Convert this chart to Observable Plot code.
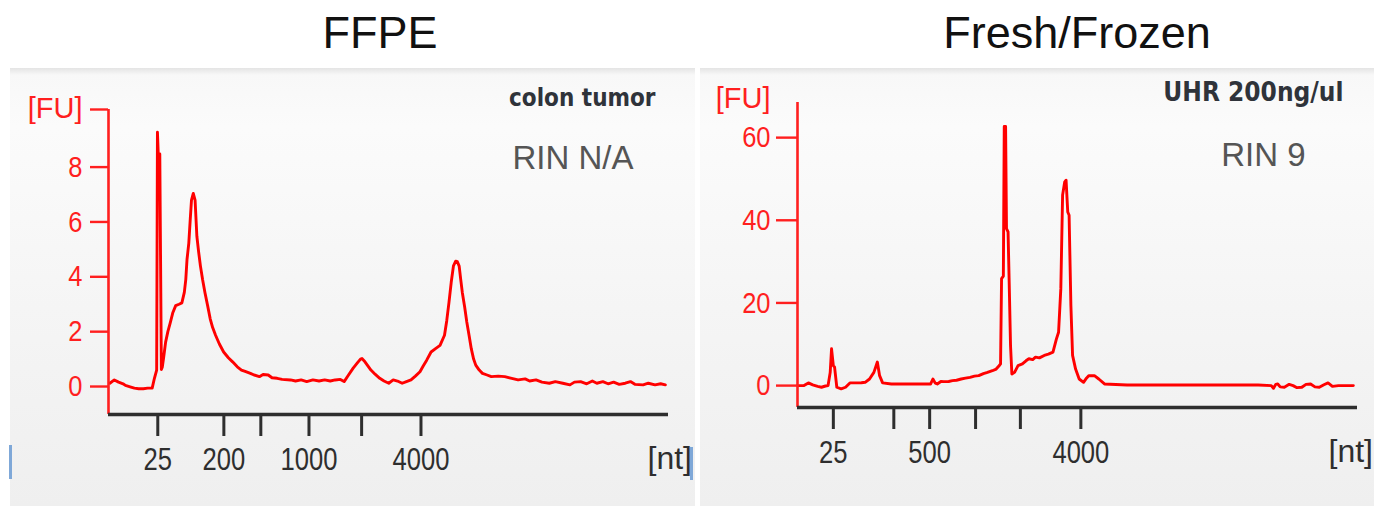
<!DOCTYPE html>
<html>
<head>
<meta charset="utf-8">
<script src="https://cdn.jsdelivr.net/npm/d3@7"></script>
<script src="https://cdn.jsdelivr.net/npm/@observablehq/plot@0.6"></script>
<style>
  body { margin: 0; background: #fff; }
  #root { position: relative; width: 1374px; height: 511px; overflow: hidden; font-family: "Liberation Sans", Arial, sans-serif; }
  .title { position: absolute; top: 10px; font-size: 45px; line-height: 45px; color: #111; text-align: center; white-space: nowrap; }
  .panel { position: absolute; top: 68px; height: 438px;
    background: linear-gradient(to bottom, #e4e4e4 0px, #f8f8f8 7px, #fbfbfb 60px, #f3f3f3 300px, #efefef 100%); }
  .panel svg { position: absolute; left: 0; top: 0; }
  .edge { position: absolute; width: 3px; background: #7fa8d8; }
</style>
</head>
<body>
<div id="root">
  <div class="title" style="left:230px;width:300px;">FFPE</div>
  <div class="title" style="left:877px;width:400px;">Fresh/Frozen</div>
  <div class="panel" id="left" style="left:10px;width:685px;"></div>
  <div class="panel" id="right" style="left:700px;width:674px;"></div>
  <div class="edge" style="left:9px;top:445px;height:34px;"></div>
  <div class="edge" style="left:690px;top:447px;height:33px;"></div>
</div>
<script>
// ---------- data ----------
// size ladder (nt) and migration times (s) of the ladder ticks
const ladderNt = [25, 200, 500, 1000, 2000, 4000];
const ffpeLadderTime = [23.4, 29.3, 32.6, 36.9, 41.6, 46.9];
const freshLadderTime = [22.2, 27.6, 30.8, 34.9, 38.9, 44.3];
const ffpeLabeledNt = [25, 200, 1000, 4000];
const freshLabeledNt = [25, 500, 4000];
const ffpeYTicks = [0, 2, 4, 6, 8];
const freshYTicks = [0, 20, 40, 60];

// FFPE trace: time (s) and fluorescence (FU)
const ffpeTime = [19.12,19.52,19.9,20.3,20.51,21.0,21.31,21.7,22.11,22.5,22.9,23.1,23.3,23.37,23.44,23.58,23.72,23.8,23.92,24.1,24.3,24.5,24.75,25.0,25.3,25.55,25.77,25.9,26.01,26.17,26.3,26.41,26.57,26.73,26.89,27.05,27.21,27.4,27.61,27.85,28.08,28.3,28.56,28.9,29.28,29.7,30.08,30.5,30.87,31.2,31.67,32.0,32.47,32.8,33.26,33.6,34.06,34.5,35.25,35.7,36.2,36.7,37.25,37.8,38.3,38.8,39.24,39.7,40.04,40.4,40.83,41.2,41.5,41.63,41.9,42.43,42.8,43.22,43.6,44.02,44.42,44.8,45.22,45.6,46.01,46.4,46.81,47.1,47.41,47.8,48.2,48.6,49.0,49.2,49.4,49.6,49.8,50.0,50.15,50.31,50.45,50.59,50.8,50.99,51.2,51.39,51.6,51.79,52.1,52.39,52.8,53.18,53.8,54.38,55.0,55.57,56.2,56.6,57.17,57.7,58.36,58.9,59.56,60.2,60.6,61.15,61.7,62.2,62.6,63.14,63.6,64.1,64.6,65.14,65.6,66.0,66.73,67.2,67.8,68.3,68.72];
const ffpeFU = [0.12,0.24,0.16,0.1,0.04,-0.02,-0.06,-0.08,-0.08,-0.06,-0.06,0.3,0.6,9.27,8.5,8.48,0.62,0.7,1.05,1.62,2.0,2.3,2.7,2.95,3.0,3.05,3.43,3.9,4.63,5.23,6.1,6.8,7.04,6.8,5.48,4.9,4.39,3.9,3.43,2.95,2.47,2.15,1.87,1.55,1.26,1.05,0.9,0.72,0.6,0.55,0.48,0.42,0.36,0.44,0.42,0.32,0.3,0.26,0.24,0.2,0.24,0.18,0.24,0.2,0.24,0.2,0.24,0.26,0.18,0.4,0.66,0.85,1.0,1.02,0.9,0.6,0.45,0.3,0.2,0.12,0.24,0.2,0.12,0.18,0.24,0.38,0.54,0.75,0.96,1.26,1.38,1.5,1.87,2.4,3.07,3.8,4.4,4.57,4.55,4.39,3.9,3.43,2.9,2.35,1.85,1.38,1.0,0.78,0.6,0.48,0.42,0.36,0.38,0.36,0.3,0.24,0.28,0.2,0.24,0.16,0.12,0.18,0.12,0.06,0.16,0.18,0.1,0.2,0.12,0.18,0.1,0.16,0.08,0.12,0.18,0.08,0.06,0.12,0.06,0.1,0.06];

// Fresh/Frozen trace: time (s) and fluorescence (FU)
const freshTime = [19.0,19.58,19.97,20.36,20.8,21.14,21.5,21.73,21.92,22.04,22.2,22.31,22.51,22.9,23.29,23.68,24.26,24.7,25.04,25.43,25.82,26.13,26.33,26.6,27.38,28.94,30.89,31.09,31.3,31.48,31.8,32.06,32.5,32.84,33.2,33.62,34.0,34.4,34.8,35.18,35.6,35.96,36.4,36.74,37.0,37.13,37.22,37.38,37.46,37.58,37.66,37.8,37.9,38.02,38.14,38.38,38.69,39.08,39.4,39.66,40.0,40.25,40.6,41.03,41.4,41.81,42.12,42.31,42.51,42.67,42.86,42.98,43.13,43.25,43.41,43.56,43.83,44.15,44.54,44.8,45.0,45.51,45.9,46.41,48.43,52.33,56.23,60.13,61.3,61.5,61.7,61.88,62.1,62.47,62.9,63.25,63.6,64.03,64.4,64.81,65.2,65.59,66.0,66.37,66.76,67.3,67.93,68.63];
const freshFU = [0,0,0.65,0.16,-0.2,-0.4,-0.1,0,3.2,8.9,4.85,4.45,-0.4,-0.8,-0.4,0.65,0.65,0.7,0.8,1.6,3.2,5.7,2.4,0.65,0.4,0.4,0.4,1.6,0.6,0.4,1.0,0.97,1.0,1.2,1.3,1.6,1.8,2.0,2.3,2.4,2.9,3.2,3.6,4.0,4.8,5.25,25.9,26.5,62.7,62.7,38.0,37.2,25.0,9.7,2.8,3.2,4.85,5.25,6.0,6.5,6.3,6.9,6.7,7.3,7.6,8.1,11.3,12.9,23.4,46.1,49.3,49.7,42.0,41.2,19.4,7.3,4.0,1.6,0.8,1.8,2.4,2.4,1.6,0.4,0.16,0.16,0.16,0.16,0,-0.65,0.3,0.4,-0.3,-0.4,0.3,0,-0.5,-0.4,0.3,0.4,-0.3,-0.4,0.2,0.65,-0.2,0,0,0];

// ---------- drawing ----------
const RED = "#ff1f1f";
const AXIS_DARK = "#2e2e2e";
const SANS = '"Liberation Sans", Arial, sans-serif';
const LABEL_FONT = '"DejaVu Sans Condensed", Tahoma, sans-serif';

// horizontally condense rendered text (the instrument font is a narrow face);
// only the horizontal placement is moved into the transform, vertical attributes stay untouched
function condense(svg, selector, sx) {
  svg.querySelectorAll(selector).forEach(t => {
    let tr = t.getAttribute("transform") || "";
    const x = t.getAttribute("x");
    if (x != null && isFinite(+x)) {
      tr += ` translate(${+x},0)`;
      t.removeAttribute("x");
    }
    t.setAttribute("transform", (tr + ` scale(${sx},1)`).trim());
  });
}

function panel(cfg) {
  const data = cfg.time.map((t, i) => ({t, fu: cfg.fu[i]}));
  const tickLabel = new Map(cfg.ladderTime.map((t, i) => [t, cfg.labeled.includes(ladderNt[i]) ? String(ladderNt[i]) : ""]));
  const [x0] = cfg.xDomain;
  const [y0, y1] = cfg.yDomain;
  const yTicks = cfg.topTick ? [...cfg.yTicks, y1] : cfg.yTicks;
  const svg = Plot.plot({
    width: cfg.width, height: cfg.height,
    marginLeft: cfg.margin[3], marginRight: cfg.margin[1], marginTop: cfg.margin[0], marginBottom: cfg.margin[2],
    style: {background: "transparent", overflow: "visible"},
    x: {domain: cfg.xDomain},
    y: {domain: cfg.yDomain},
    marks: [
      Plot.line(data, {x: "t", y: "fu", stroke: "#ff0000", strokeWidth: 2.9, strokeLinejoin: "round"}),
      Plot.ruleX([x0], {y1: y0, y2: y1, stroke: RED, strokeWidth: 2.6}),
      Plot.axisY({ticks: yTicks, tickFormat: d => (d === y1 ? "" : String(d)), tickSize: cfg.yTickSize, tickPadding: cfg.yTickPad,
        color: RED, strokeWidth: 2.4, fontSize: 30, fontFamily: SANS, label: null}),
      Plot.text(["[FU]"], {frameAnchor: "top-left", textAnchor: "end", lineAnchor: "middle", dx: cfg.fuDx, dy: cfg.fuDy,
        fill: RED, fontSize: 29, fontFamily: SANS}),
      Plot.ruleY([y0], {stroke: AXIS_DARK, strokeWidth: 3.6}),
      Plot.axisX({ticks: cfg.ladderTime, tickFormat: d => tickLabel.get(d), tickSize: 22, tickPadding: 11,
        color: AXIS_DARK, strokeWidth: 3, fontSize: 32, fontFamily: SANS, label: null}),
      Plot.text(["[nt]"], {frameAnchor: "bottom-right", textAnchor: "start", lineAnchor: "top", dx: cfg.ntDx, dy: 32,
        fill: AXIS_DARK, fontSize: 32, fontFamily: SANS, ariaLabel: "unit-label"}),
      Plot.text([cfg.sample], {frameAnchor: "top-right", textAnchor: "end", lineAnchor: "middle", dx: cfg.sampleDx, dy: cfg.sampleDy,
        fill: "#2f333a", fontSize: cfg.sampleSize, fontWeight: "bold", fontFamily: LABEL_FONT}),
      Plot.text([cfg.rin], {frameAnchor: "top-right", textAnchor: "end", lineAnchor: "middle", dx: cfg.rinDx, dy: cfg.rinDy,
        fill: "#555", fontSize: 33, fontFamily: SANS})
    ]
  });
  condense(svg, 'g[aria-label="x-axis tick label"] text', 0.8);
  condense(svg, 'g[aria-label="y-axis tick label"] text', 0.85);
  condense(svg, 'g[aria-label="unit-label"] text', 0.85);
  return svg;
}

document.getElementById("left").append(panel({
  time: ffpeTime, fu: ffpeFU, ladderTime: ffpeLadderTime, labeled: ffpeLabeledNt, yTicks: ffpeYTicks,
  xDomain: [19, 69], yDomain: [-1.02, 10.1], topTick: true,
  width: 685, height: 438, margin: [41, 27, 92, 98],
  yTickSize: 18, yTickPad: 8, fuDx: -26, fuDy: -1, ntDx: -21,
  sample: "colon tumor", sampleSize: 24, sampleDx: -13, sampleDy: -11,
  rin: "RIN N/A", rinDx: -35, rinDy: 49
}));

document.getElementById("right").append(panel({
  time: freshTime, fu: freshFU, ladderTime: freshLadderTime, labeled: freshLabeledNt, yTicks: freshYTicks,
  xDomain: [19, 69], yDomain: [-5.3, 68.5], topTick: false,
  width: 674, height: 438, margin: [34, 17, 99, 97],
  yTickSize: 21, yTickPad: 6, fuDx: -27, fuDy: -4, ntDx: -29,
  sample: "UHR 200ng/ul", sampleSize: 26, sampleDx: -14, sampleDy: -10,
  rin: "RIN 9", rinDx: -52, rinDy: 53
}));
</script>
</body>
</html>
